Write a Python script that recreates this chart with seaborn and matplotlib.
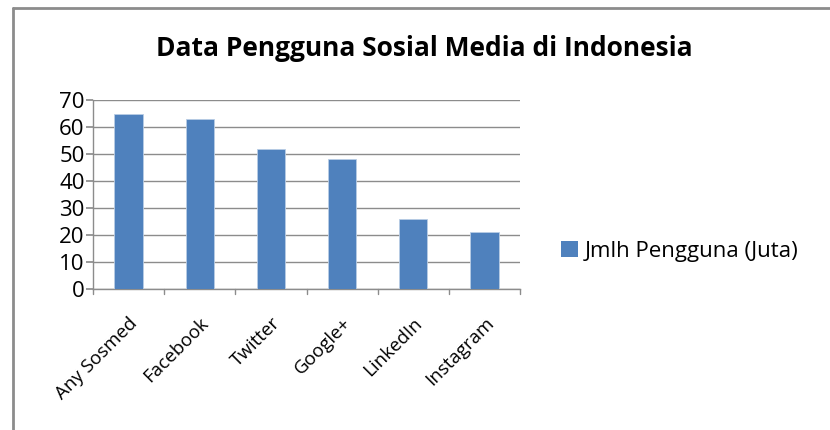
import matplotlib
matplotlib.use("Agg")
import matplotlib.pyplot as plt
import seaborn as sns
import pandas as pd
from matplotlib.patches import Rectangle
from matplotlib.lines import Line2D

categories = ["Any Sosmed", "Facebook", "Twitter", "Google+", "LinkedIn", "Instagram"]
values = [65, 63, 52, 48, 26, 21]
series_name = "Jmlh Pengguna (Juta)"
title = "Data Pengguna Sosial Media di Indonesia"
yticks = [0, 10, 20, 30, 40, 50, 60, 70]

sns.set_theme(style="white")
plt.rcParams['font.family'] = ['Open Sans', 'DejaVu Sans']
plt.rcParams['text.color'] = 'black'
plt.rcParams['xtick.color'] = 'black'
plt.rcParams['ytick.color'] = 'black'

df = pd.DataFrame({"cat": categories, "val": values})

fig = plt.figure(figsize=(8.3, 4.3), dpi=100)
ax = fig.add_axes([93/830, 1-289/430, (520-93)/830, (289-100)/430])

bar_color = "#4F81BD"
sns.barplot(data=df, x="cat", y="val", ax=ax, color=bar_color, width=0.4,
            saturation=1, edgecolor="#B9CDE5", linewidth=0.6, zorder=3)

ax.set_ylim(0, 70)
ax.set_xlim(-0.5, len(categories) - 0.5)
ax.set_yticks(yticks)
ax.set_yticklabels([str(t) for t in yticks], fontsize=16)
ax.yaxis.grid(True, color="#8C8C8C", linewidth=1.0, zorder=0)
ax.set_axisbelow(True)
ax.set_xlabel("")
ax.set_ylabel("")
for s in ["top", "right"]:
    ax.spines[s].set_visible(False)
ax.spines["left"].set_color("#8C8C8C")
ax.spines["bottom"].set_color("#8C8C8C")
ax.spines["left"].set_linewidth(1.0)
ax.spines["bottom"].set_linewidth(1.0)
ax.tick_params(axis="y", length=5, color="#8C8C8C", direction="out", pad=1, left=True,
               labelcolor="black")
ax.set_xticks([i for i in range(len(categories))])
ax.set_xticklabels(categories, rotation=45, ha="right", rotation_mode="anchor", fontsize=13.5)
ax.tick_params(axis="x", length=0, pad=18, labelcolor="black")
for b in [i - 0.5 for i in range(len(categories) + 1)]:
    ax.plot([b, b], [0, -2.0], color="#8C8C8C", linewidth=1.0, clip_on=False, zorder=4)

fig.text(424/830, 1-48/430, title, ha="center", va="center", fontsize=19,
         fontweight="bold", color="black")

handle = Rectangle((0, 0), 1, 1, facecolor=bar_color, edgecolor="none")
fig.legend([handle], [series_name], loc="center left", bbox_to_anchor=(541/830, 1-251/430),
           frameon=False, fontsize=16, handlelength=0.75, handleheight=0.75, handletextpad=0.3,
           labelcolor="black")

fig.add_artist(Line2D([12.5/830, 12.5/830], [0, 1-7.5/430], transform=fig.transFigure,
                      color="#8C8C8C", linewidth=2))
fig.add_artist(Line2D([12.5/830, 1], [1-7.5/430, 1-7.5/430], transform=fig.transFigure,
                      color="#8C8C8C", linewidth=2))

fig.savefig("out.png", dpi=100)
